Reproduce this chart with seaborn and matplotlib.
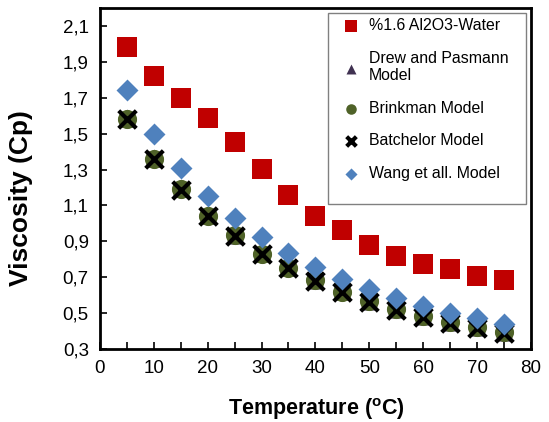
import matplotlib
matplotlib.use("Agg")
import matplotlib.pyplot as plt
import seaborn as sns
import pandas as pd
from matplotlib.patches import Rectangle
from matplotlib.ticker import FixedLocator, FuncFormatter

temperature = [5, 10, 15, 20, 25, 30, 35, 40, 45, 50, 55, 60, 65, 70, 75]
experimental = [1.98, 1.82, 1.70, 1.585, 1.455, 1.305, 1.16, 1.04, 0.965, 0.88, 0.82, 0.775, 0.745, 0.705, 0.683]
drew_pasmann = [1.585, 1.365, 1.195, 1.045, 0.935, 0.835, 0.755, 0.685, 0.622, 0.567, 0.522, 0.483, 0.452, 0.424, 0.396]
brinkman = [1.583, 1.361, 1.192, 1.043, 0.933, 0.832, 0.754, 0.683, 0.620, 0.566, 0.521, 0.482, 0.450, 0.422, 0.394]
batchelor = [1.580, 1.358, 1.188, 1.040, 0.929, 0.829, 0.750, 0.680, 0.617, 0.563, 0.518, 0.479, 0.447, 0.419, 0.391]
wang = [1.745, 1.50, 1.311, 1.153, 1.030, 0.925, 0.836, 0.755, 0.689, 0.632, 0.582, 0.538, 0.503, 0.471, 0.439]

series_names = ["%1.6 Al2O3-Water", "Drew and Pasmann\nModel", "Brinkman Model",
                "Batchelor Model", "Wang et all. Model"]
y_ticks = [0.3, 0.5, 0.7, 0.9, 1.1, 1.3, 1.5, 1.7, 1.9, 2.1]
x_ticks = [0, 10, 20, 30, 40, 50, 60, 70, 80]

sns.set_theme(style="white")
plt.rcParams["font.family"] = ["Liberation Sans", "DejaVu Sans"]
plt.rcParams["mathtext.fontset"] = "custom"
plt.rcParams["mathtext.rm"] = "Liberation Sans"
plt.rcParams["mathtext.bf"] = "Liberation Sans:bold"
plt.rcParams["text.color"] = "black"
plt.rcParams["axes.labelcolor"] = "black"
plt.rcParams["legend.labelcolor"] = "black"

fig = plt.figure(figsize=(5.49, 4.22), dpi=100)
ax = fig.add_axes([0.182, 0.173, 0.785, 0.808])

styles = [
    (experimental, "s", "#C00000", 210, 0),
    (drew_pasmann, "^", "#403151", 170, 0),
    (brinkman, "o", "#4F6228", 190, 0),
    (batchelor, "x", "#000000", 160, 3),
    (wang, "D", "#4F81BD", 125, 0),
]
for (vals, mk, col, size, lw), name in zip(styles, series_names):
    d = pd.DataFrame({"T": temperature, "v": vals})
    sns.scatterplot(data=d, x="T", y="v", marker=mk, color=col, s=size,
                    linewidth=lw, ax=ax, label=name, zorder=3)

ax.set_xlim(0, 80)
ax.set_ylim(0.3, 2.2)
ax.xaxis.set_major_locator(FixedLocator(x_ticks))
ax.xaxis.set_minor_locator(FixedLocator([5 + 10 * i for i in range(8)]))
ax.yaxis.set_major_locator(FixedLocator(y_ticks))
ax.yaxis.set_major_formatter(FuncFormatter(lambda v, p: f"{v:.1f}".replace(".", ",")))
ax.tick_params(axis="both", which="both", direction="in", length=5, width=1.2,
               colors="black", labelsize=13.5, pad=8)
ax.tick_params(axis="x", which="minor", length=5)
ax.tick_params(left=True, bottom=True, top=False, right=False, which="both")
for sp in ax.spines.values():
    sp.set_visible(True)
    sp.set_color("black")
    sp.set_linewidth(2)

ax.set_xlabel(r"Temperature ($^{\mathbf{o}}$C)", fontsize=15.5, fontweight="bold",
              color="black")
ax.set_ylabel("Viscosity (Cp)", fontsize=19, fontweight="bold", color="black")
ax.xaxis.set_label_coords(0.503, -0.138)
ax.yaxis.set_label_coords(-0.155, 0.444)

# legend frame drawn separately so its size matches the reference box
ax.add_patch(Rectangle((0.529, 0.425), 0.459, 0.56, transform=ax.transAxes,
                       facecolor="white", edgecolor="#808080", linewidth=1.0,
                       zorder=4))
leg = ax.legend(loc="upper left", bbox_to_anchor=(0.529, 0.985, 0.459, 0.0),
                mode="expand", fontsize=11.4, frameon=False, labelspacing=1.12,
                handlelength=2.3, handletextpad=0.0, borderpad=0.3,
                markerscale=0.55, borderaxespad=0)
for t in leg.get_texts():
    t.set_color("black")
leg.set_zorder(5)

fig.savefig("out.png", dpi=100)
